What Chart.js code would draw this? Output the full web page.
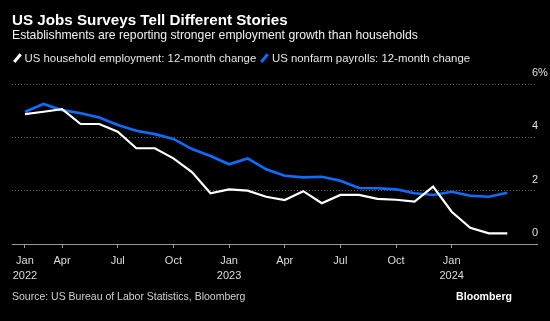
<!DOCTYPE html>
<html>
<head>
<meta charset="utf-8">
<script src="https://cdn.jsdelivr.net/npm/chart.js@4/dist/chart.umd.min.js"></script>
<style>
  html,body{margin:0;padding:0;background:#000;}
  body{width:550px;height:321px;position:relative;overflow:hidden;font-family:"Liberation Sans",Arial,sans-serif;}
  #wrap{position:absolute;left:0;top:0;width:550px;height:321px;}
  .t{position:absolute;white-space:nowrap;line-height:1;}
  #title{left:12px;top:12px;font-size:15.2px;font-weight:bold;color:#fff;}
  #sub{left:12px;top:29px;font-size:12.2px;color:#f0f0f0;}
  #legend{left:12px;top:53px;font-size:11.4px;color:#e6e6e6;}
  .sw{display:inline-block;width:2.5px;height:10px;transform:rotate(40deg);vertical-align:-1px;margin:0 6px 0 4px;}
  #src{left:12px;top:291px;font-size:10.5px;color:#d0d0d0;}
  #bb{right:38px;top:291px;font-size:10.6px;font-weight:bold;color:#fff;}
</style>
</head>
<body>
<div id="wrap"><canvas id="c" width="550" height="321"></canvas></div>
<div class="t" id="title">US Jobs Surveys Tell Different Stories</div>
<div class="t" id="sub">Establishments are reporting stronger employment growth than households</div>
<div class="t" id="legend"><span class="sw" style="background:#fff"></span>US household employment: 12-month change <span class="sw" style="background:#0d6dff"></span>US nonfarm payrolls: 12-month change</div>
<div class="t" id="src">Source: US Bureau of Labor Statistics, Bloomberg</div>
<div class="t" id="bb">Bloomberg</div>
<script>
// Monthly observations (index 0 = first point of the chart)
const household = [4.87, 4.96, 5.06, 4.5, 4.5, 4.21, 3.59, 3.59, 3.21, 2.7, 1.9, 2.05, 2.0, 1.77, 1.65, 1.98, 1.53, 1.84, 1.84, 1.69, 1.66, 1.59, 2.15, 1.21, 0.61, 0.4, 0.4];
const payrolls  = [4.96, 5.25, 5.02, 4.9, 4.74, 4.46, 4.25, 4.12, 3.94, 3.56, 3.3, 2.99, 3.21, 2.8, 2.56, 2.5, 2.52, 2.37, 2.1, 2.09, 2.05, 1.9, 1.84, 1.96, 1.81, 1.77, 1.92];
const tickPositions = [0, 2, 5, 8, 11, 14, 17, 20, 23];
const tickMonths = ['Jan', 'Apr', 'Jul', 'Oct', 'Jan', 'Apr', 'Jul', 'Oct', 'Jan'];
const tickYears  = ['2022', '', '', '', '2023', '', '', '', '2024'];
const yTicks = [0, 2, 4, 6];

const toPts = arr => arr.map((v, i) => ({x: i, y: v}));

const yLabelPlugin = {
  id: 'yLabels',
  afterDraw(chart) {
    const ctx = chart.ctx, ys = chart.scales.y, area = chart.chartArea;
    ctx.save();
    ctx.font = '11px "Liberation Sans", Arial, sans-serif';
    ctx.fillStyle = '#e0e0e0';
    ctx.textBaseline = 'middle';
    yTicks.forEach(v => {
      const py = ys.getPixelForValue(v) - 11;
      ctx.textAlign = 'right';
      ctx.fillText(String(v), area.right + 1, py);
      if (v === yTicks[yTicks.length - 1]) {
        ctx.textAlign = 'left';
        ctx.fillText('%', area.right + 1, py);
      }
    });
    ctx.restore();
  }
};

new Chart(document.getElementById('c'), {
  type: 'line',
  data: {
    datasets: [
      {label: 'US household employment: 12-month change', data: toPts(household), borderColor: '#ffffff', borderWidth: 2.2, pointRadius: 0, tension: 0},
      {label: 'US nonfarm payrolls: 12-month change', data: toPts(payrolls), borderColor: '#0d6dff', borderWidth: 2.6, pointRadius: 0, tension: 0}
    ]
  },
  options: {
    responsive: false,
    animation: false,
    layout: {padding: {left: 12, right: 13, top: 84, bottom: 0}},
    plugins: {legend: {display: false}, title: {display: false}, tooltip: {enabled: false}},
    scales: {
      x: {
        type: 'linear', min: -0.7, max: 27.6,
        afterBuildTicks: axis => { axis.ticks = tickPositions.map(v => ({value: v})); },
        afterFit: s => { s.height = 77; },
        ticks: {
          autoSkip: false, maxRotation: 0, color: '#dcdcdc', padding: 5,
          font: {family: '"Liberation Sans", Arial, sans-serif', size: 11, lineHeight: 1.4},
          callback: v => {
            const i = tickPositions.indexOf(v);
            if (i < 0) return '';
            return tickYears[i] ? [tickMonths[i], tickYears[i]] : tickMonths[i];
          }
        },
        grid: {drawOnChartArea: false, drawTicks: true, tickLength: 4, color: '#9a9a9a', lineWidth: 1},
        border: {display: true, color: '#9a9a9a', width: 1}
      },
      y: {
        position: 'right', min: 0, max: 6,
        afterBuildTicks: axis => { axis.ticks = yTicks.map(v => ({value: v})); },
        afterFit: s => { s.width = 0; },
        ticks: {display: false},
        grid: {color: ctx => ctx.tick && ctx.tick.value === 0 ? 'rgba(0,0,0,0)' : '#5a5a5a', lineWidth: 1, drawTicks: false},
        border: {display: false, dash: [1, 2]}
      }
    }
  },
  plugins: [yLabelPlugin]
});
</script>
</body>
</html>
